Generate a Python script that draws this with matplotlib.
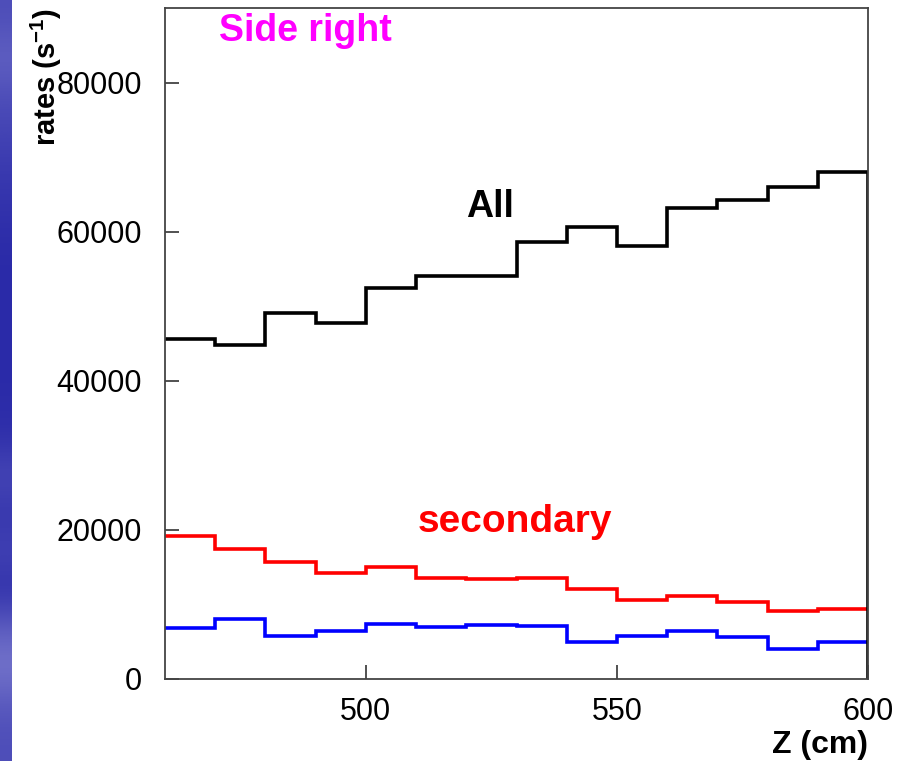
import numpy as np
import matplotlib.pyplot as plt
from matplotlib.colors import LinearSegmentedColormap

# --- histogram contents, 10 cm bins from 460 to 600 cm
bin_edges = [460, 470, 480, 490, 500, 510, 520, 530, 540, 550, 560, 570, 580, 590, 600]
rates_all = [45600, 44800, 49100, 47800, 52500, 54000, 54000,
             58650, 60650, 58100, 63200, 64300, 66000, 68000]
rates_secondary = [19200, 17500, 15750, 14270, 15070, 13600, 13370,
                   13600, 12080, 10600, 11180, 10380, 9130, 9350]
rates_other = [6890, 8010, 5810, 6440, 7340, 6980, 7290,
               7110, 4970, 5810, 6480, 5640, 4070, 4970]

x_ticks = [500, 550, 600]
y_ticks = [0, 20000, 40000, 60000, 80000]

plt.rcParams['font.family'] = ['Liberation Sans', 'DejaVu Sans']
plt.rcParams['mathtext.fontset'] = 'custom'
plt.rcParams['mathtext.rm'] = 'Liberation Sans'
plt.rcParams['mathtext.bf'] = 'Liberation Sans:bold'

fig = plt.figure(figsize=(9.07, 7.61), dpi=100)
fig.patch.set_facecolor('white')

# --- slide background strip on the left (top to bottom brightness)
strip = fig.add_axes([0, 0, 12 / 907, 1])
slide_cmap = LinearSegmentedColormap.from_list('slide', ['#2a2aa8', '#9090d8'])
grad = np.array([0.35, 0.55, 0.35, 0.25, 0.15, 0.08, 0.02, 0.0, 0.0, 0.0,
                 0.02, 0.05, 0.3, 0.1, 0.25, 0.05, 0.5, 0.75, 0.45, 0.35]).reshape(-1, 1)
strip.imshow(grad, aspect='auto', cmap=slide_cmap, vmin=0, vmax=1,
             interpolation='bicubic', extent=[0, 1, 0, 1])
strip.set_axis_off()

ax = fig.add_axes([165 / 907, 82 / 761, 703 / 907, 671 / 761])

ax.stairs(rates_all, bin_edges, baseline=None, color='black', lw=2.6)
ax.vlines(bin_edges[-1], 0, rates_all[-1], color='black', lw=2.6)
ax.stairs(rates_secondary, bin_edges, baseline=None, color='#ff0000', lw=2.6)
ax.stairs(rates_other, bin_edges, baseline=None, color='#0000ff', lw=2.6)

ax.set_xlim(460, 600)
ax.set_ylim(0, 90000)
ax.set_xticks(x_ticks)
ax.set_yticks(y_ticks)
ax.tick_params(direction='in', length=10, width=1.2, color='#333333',
               labelsize=22)
ax.tick_params(axis='y', pad=16.5)
ax.tick_params(axis='x', pad=13)
for s in ax.spines.values():
    s.set_color('#444444')
    s.set_linewidth(1.3)

ax.text(0.2, 0.965, 'Side right', transform=ax.transAxes, color='#ff00ff',
        fontsize=27, fontweight='bold', ha='center', va='center')
ax.text(0.463, 0.703, 'All', transform=ax.transAxes, color='black',
        fontsize=27, fontweight='bold', ha='center', va='center')
ax.text(0.498, 0.234, 'secondary', transform=ax.transAxes, color='#ff0000',
        fontsize=28, fontweight='bold', ha='center', va='center')

fig.text(868 / 907, 1 - 745 / 761, 'Z (cm)', fontsize=23, fontweight='bold',
         ha='right', va='center')
fig.text(46 / 907, 1 - 8 / 761, 'rates (s$^{\\mathbf{-1}}$)', fontsize=21,
         fontweight='bold', rotation=90, ha='center', va='top')

fig.savefig('out.png', dpi=100)
